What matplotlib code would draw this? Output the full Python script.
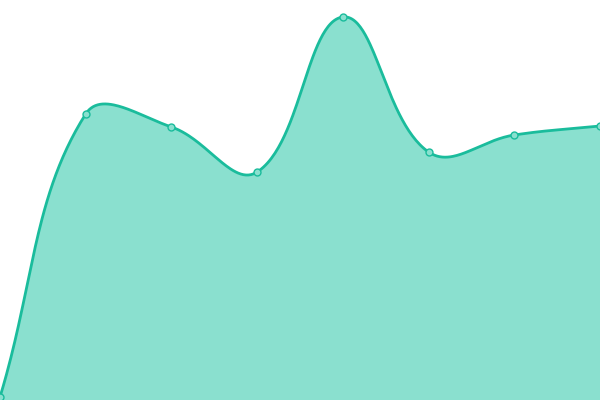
import numpy as np
import matplotlib
matplotlib.use("Agg")
import matplotlib.pyplot as plt

categories = ["A", "B", "C", "D", "E", "F", "G", "H"]
values = [3, 286, 273, 228, 383, 248, 265, 274]

LINE = "#1abc9c"
FILL = "#8ae0cf"

fig = plt.figure(figsize=(6, 4), dpi=100)
ax = fig.add_axes([0, 0, 1, 1])
ax.set_xlim(0, len(categories) - 1)
ax.set_ylim(0, 400)
ax.axis("off")

n = len(values)
xs = np.arange(n, dtype=float)
px = xs * 600 / (n - 1)
py = np.array(values, dtype=float)

tension = 0.4
cps = []
for i in range(n):
    p0 = np.array([px[max(i - 1, 0)], py[max(i - 1, 0)]])
    p1 = np.array([px[i], py[i]])
    p2 = np.array([px[min(i + 1, n - 1)], py[min(i + 1, n - 1)]])
    d01 = np.hypot(*(p1 - p0))
    d12 = np.hypot(*(p2 - p1))
    s01 = d01 / (d01 + d12) if (d01 + d12) else 0
    s12 = d12 / (d01 + d12) if (d01 + d12) else 0
    fa = tension * s01
    fb = tension * s12
    prev_cp = p1 - fa * (p2 - p0)
    next_cp = p1 + fb * (p2 - p0)
    cps.append((prev_cp, next_cp))

cx, cy = [], []
t = np.linspace(0, 1, 60)
for i in range(n - 1):
    P0 = np.array([px[i], py[i]])
    P1 = cps[i][1]
    P2 = cps[i + 1][0]
    P3 = np.array([px[i + 1], py[i + 1]])
    B = ((1 - t) ** 3)[:, None] * P0 + (3 * (1 - t) ** 2 * t)[:, None] * P1 \
        + (3 * (1 - t) * t ** 2)[:, None] * P2 + (t ** 3)[:, None] * P3
    cx.extend(B[:, 0])
    cy.extend(B[:, 1])
cx = np.array(cx) * (n - 1) / 600
cy = np.array(cy)

ax.fill_between(cx, cy, 0, color=FILL, lw=0)
ax.plot(cx, cy, color=LINE, lw=2.0, solid_capstyle="round")
ax.plot(xs, values, "o", ms=5, mfc=FILL, mec=LINE, mew=1.0)

fig.savefig("out.png", dpi=100)
